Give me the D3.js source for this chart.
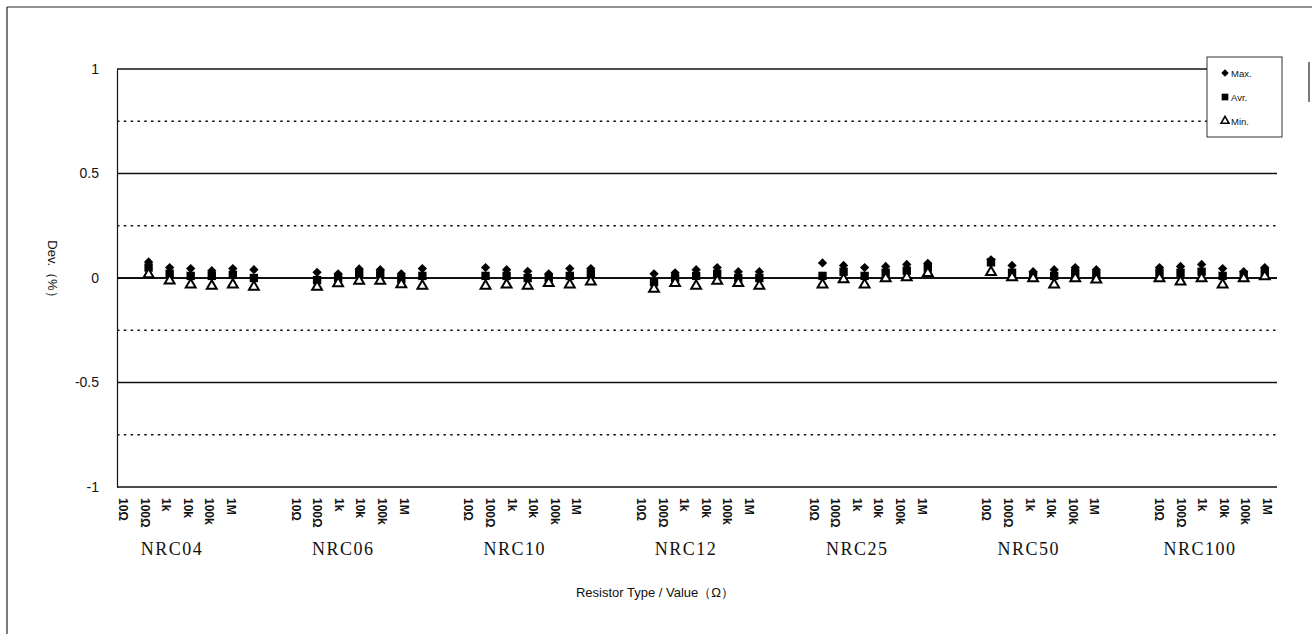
<!DOCTYPE html>
<html>
<head>
<meta charset="utf-8">
<script src="https://cdn.jsdelivr.net/npm/d3@7"></script>
<style>
  body { margin: 0; background: #fff; }
  svg { display: block; font-family: "Liberation Sans", Arial, sans-serif; }
</style>
</head>
<body>
<div id="chart"></div>
<script>
const groups = ["NRC04", "NRC06", "NRC10", "NRC12", "NRC25", "NRC50", "NRC100"];
const values = ["10Ω", "100Ω", "1k", "10k", "100k", "1M"];
const yTicks = [-1, -0.5, 0, 0.5, 1];
const yDotted = [-0.75, -0.25, 0.25, 0.75];

// one row per resistor type, columns follow `values`
const maxVals = [
  [0.077, 0.050, 0.045, 0.035, 0.045, 0.040],
  [0.027, 0.020, 0.043, 0.040, 0.020, 0.045],
  [0.050, 0.040, 0.032, 0.020, 0.045, 0.045],
  [0.020, 0.025, 0.040, 0.050, 0.030, 0.030],
  [0.072, 0.060, 0.050, 0.055, 0.065, 0.070],
  [0.087, 0.060, 0.030, 0.040, 0.050, 0.040],
  [0.050, 0.055, 0.065, 0.045, 0.030, 0.050]
];
const avrVals = [
  [0.050, 0.020, 0.010, 0.010, 0.015, 0.000],
  [-0.010, 0.000, 0.020, 0.020, -0.005, 0.010],
  [0.010, 0.010, 0.000, 0.000, 0.010, 0.020],
  [-0.020, 0.000, 0.010, 0.020, 0.000, 0.000],
  [0.010, 0.030, 0.010, 0.025, 0.035, 0.050],
  [0.075, 0.025, 0.012, 0.010, 0.025, 0.015],
  [0.025, 0.025, 0.030, 0.010, 0.015, 0.030]
];
const minVals = [
  [0.020, -0.010, -0.030, -0.035, -0.030, -0.040],
  [-0.040, -0.023, -0.012, -0.012, -0.028, -0.035],
  [-0.035, -0.030, -0.035, -0.022, -0.030, -0.015],
  [-0.050, -0.022, -0.035, -0.012, -0.022, -0.035],
  [-0.030, -0.004, -0.030, 0.000, 0.005, 0.025],
  [0.030, 0.005, 0.000, -0.030, 0.000, -0.005],
  [0.000, -0.015, 0.000, -0.030, 0.000, 0.010]
];

const W = 1312, H = 641;
const plotL = 117, plotR = 1277;

const svg = d3.select("#chart").append("svg")
  .attr("width", W).attr("height", H);

// page frame (scan shows left + top edge, bit of the right one)
svg.append("line").attr("x1", 7).attr("x2", 7).attr("y1", 7).attr("y2", 634)
  .attr("stroke", "#222").attr("stroke-width", 1.2);
svg.append("line").attr("x1", 7).attr("x2", W).attr("y1", 7).attr("y2", 7)
  .attr("stroke", "#222").attr("stroke-width", 1.2);
svg.append("line").attr("x1", 1309).attr("x2", 1309).attr("y1", 62).attr("y2", 102)
  .attr("stroke", "#222").attr("stroke-width", 1.2);

const y = d3.scaleLinear().domain([-1, 1]).range([487, 69]);

// 8 slots per type: blank, six values, blank
const slots = d3.range(groups.length * 8);
const x = d3.scaleBand().domain(slots).range([plotL, plotL + slots.length * 21.06]);
const slotOf = (g, i) => g * 8 + 1 + i;

// category labels sit on their own (slightly wider) spacing in the original
const labSlots = [];
groups.forEach((g, gi) => values.forEach((v, vi) => labSlots.push(gi * 8 + vi)));
const xLab = d3.scaleLinear().domain([0, 53]).range([123, 1267]);
const xGroup = d3.scalePoint().domain(groups).range([172, 1200]);

// grid
svg.append("g").selectAll("line").data(yDotted).join("line")
  .attr("x1", plotL).attr("x2", plotR)
  .attr("y1", d => y(d)).attr("y2", d => y(d))
  .attr("stroke", "#111").attr("stroke-width", 1.4)
  .attr("stroke-dasharray", "2.5,4.3");
svg.append("g").selectAll("line").data(yTicks).join("line")
  .attr("x1", plotL).attr("x2", plotR)
  .attr("y1", d => y(d)).attr("y2", d => y(d))
  .attr("stroke", "#111").attr("stroke-width", d => d === 0 ? 2.2 : 1.5);

// y axis
const yAxis = svg.append("g")
  .attr("transform", `translate(${plotL},0)`)
  .call(d3.axisLeft(y).tickValues(yTicks).tickSize(0).tickPadding(18)
    .tickFormat(d => String(d)));
yAxis.select(".domain").attr("stroke", "#111").attr("stroke-width", 1.2);
yAxis.selectAll("text").attr("font-size", 14).attr("fill", "#111")
  .attr("font-family", "\"Liberation Sans\", Arial, sans-serif");

svg.append("text")
  .attr("transform", "translate(48,272) rotate(90)")
  .attr("text-anchor", "middle")
  .attr("font-size", 13).attr("fill", "#111")
  .text("Dev.（%）");

// x category labels, rotated to read downward
svg.append("g").selectAll("text").data(labSlots).join("text")
  .attr("transform", (d, k) => `translate(${xLab(d) - 4},498) rotate(90)`)
  .attr("font-size", 12).attr("font-weight", "bold").attr("fill", "#111")
  .text((d, k) => values[k % values.length]);

svg.append("g").selectAll("text").data(groups).join("text")
  .attr("x", d => xGroup(d)).attr("y", 555)
  .attr("text-anchor", "middle")
  .attr("font-family", "\"Liberation Serif\", \"DejaVu Serif\", serif")
  .attr("font-size", 18).attr("letter-spacing", 1.5).attr("fill", "#111")
  .text(d => d);

svg.append("text")
  .attr("x", 655).attr("y", 597)
  .attr("text-anchor", "middle")
  .attr("font-size", 13).attr("fill", "#111")
  .text("Resistor Type / Value（Ω）");

// markers
function flat(rows) {
  const out = [];
  rows.forEach((r, g) => r.forEach((v, i) => out.push({ g, i, v })));
  return out;
}
const diamond = d3.symbol().type(d3.symbolDiamond2).size(55)();
const square = d3.symbol().type(d3.symbolSquare).size(70)();
const tri = d3.symbol().type(d3.symbolTriangle).size(42)();
const cx = d => x(slotOf(d.g, d.i)) + x.bandwidth() / 2;

svg.append("g").selectAll("path").data(flat(maxVals)).join("path")
  .attr("transform", d => `translate(${cx(d)},${y(d.v)})`)
  .attr("d", diamond).attr("fill", "#000");
svg.append("g").selectAll("path").data(flat(avrVals)).join("path")
  .attr("transform", d => `translate(${cx(d)},${y(d.v)})`)
  .attr("d", square).attr("fill", "#000");
svg.append("g").selectAll("path").data(flat(minVals)).join("path")
  .attr("transform", d => `translate(${cx(d)},${y(d.v) + 0.5})`)
  .attr("d", tri).attr("fill", "#fff").attr("stroke", "#000").attr("stroke-width", 2);

// legend
const leg = svg.append("g").attr("transform", "translate(1207,57)");
leg.append("rect").attr("width", 75).attr("height", 80)
  .attr("fill", "#fff").attr("stroke", "#333").attr("stroke-width", 1);
const legItems = [
  { name: "Max.", sym: diamond, fill: "#000" },
  { name: "Avr.", sym: square, fill: "#000" },
  { name: "Min.", sym: tri, fill: "#fff" }
];
const li = leg.selectAll("g.item").data(legItems).join("g")
  .attr("class", "item")
  .attr("transform", (d, k) => `translate(18,${16 + k * 24})`);
li.append("path").attr("d", d => d.sym).attr("fill", d => d.fill)
  .attr("stroke", d => d.fill === "#fff" ? "#000" : "none").attr("stroke-width", 2)
  .attr("transform", "scale(0.8)");
li.append("text").attr("x", 6).attr("y", 4)
  .attr("font-size", 9.5).attr("fill", "#111")
  .text(d => d.name);
</script>
</body>
</html>
